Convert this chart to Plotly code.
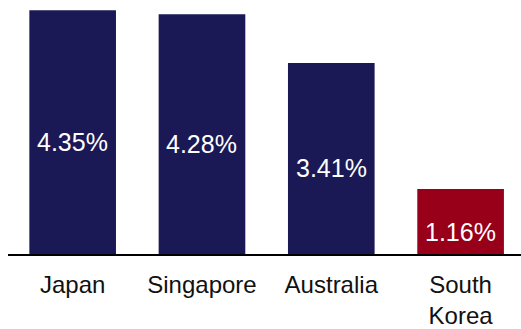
import plotly.graph_objects as go

# Country yields shown as bars
countries = ["Japan", "Singapore", "Australia", "South Korea"]
tick_labels = ["Japan", "Singapore", "Australia", "South<br>Korea"]
values = [4.35, 4.28, 3.41, 1.16]
bar_colors = ["#1b1955", "#1b1955", "#1b1955", "#98001a"]

fig = go.Figure()
fig.add_trace(go.Bar(
    x=countries,
    y=values,
    marker=dict(color=bar_colors, line=dict(width=0)),
    width=0.67,
    hoverinfo="skip",
))

# Value labels sit a little below the middle of each bar
for c, v in zip(countries, values):
    fig.add_annotation(
        x=c, y=v / 2, yshift=-10,
        text=f"{v:.2f}%", showarrow=False,
        font=dict(family="Liberation Sans, Arial, sans-serif", size=25, color="white"),
    )

fig.update_layout(
    width=521, height=329,
    margin=dict(l=8, r=0, t=0, b=71),
    paper_bgcolor="white", plot_bgcolor="white",
    showlegend=False,
    font=dict(family="Liberation Sans, Arial, sans-serif", size=24, color="#111111"),
)
fig.update_xaxes(
    range=[-0.5, 3.467],
    tickmode="array", tickvals=countries, ticktext=tick_labels,
    showline=True, linecolor="black", linewidth=2,
    ticks="outside", ticklen=8, tickcolor="rgba(0,0,0,0)",
    showgrid=False, zeroline=False,
)
fig.update_yaxes(
    range=[0, 4.533], visible=False, showgrid=False, zeroline=False,
)

fig.write_html("out.html")
